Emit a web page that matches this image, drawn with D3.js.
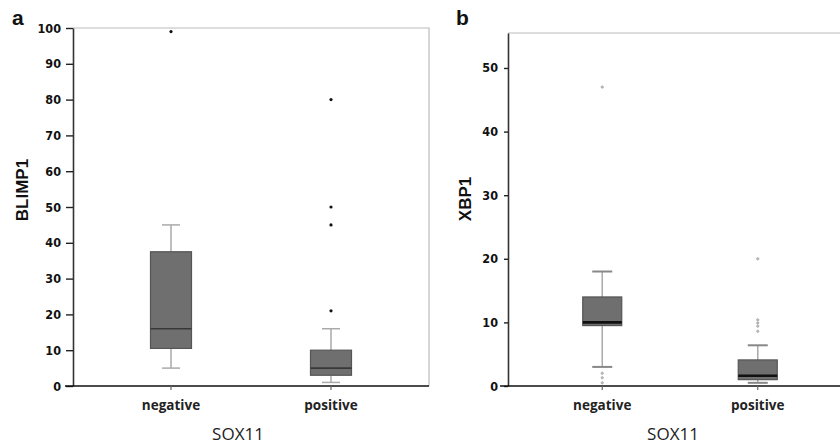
<!DOCTYPE html>
<html>
<head>
    <title>BLIMP1 / XBP1 by SOX11</title>
    <script src="https://d3js.org/d3.v7.min.js"></script>
    <style>
        body { margin: 0; background: white; }
        svg { display: block; background: white; }
        .tick-label { font-family: 'Liberation Sans Narrow', 'DejaVu Sans Condensed', Arial, sans-serif; font-weight: bold; font-size: 12.5px; fill: #111; }
        .cat-label { font-family: 'Open Sans', 'Noto Sans', sans-serif; font-weight: bold; font-size: 13.5px; fill: #222; }
        .x-title { font-family: 'Open Sans', 'Noto Sans', sans-serif; font-size: 17px; fill: #222; }
        .y-title { font-family: 'Liberation Sans', Arial, sans-serif; font-weight: bold; font-size: 17px; fill: #111; }
        .panel-letter { font-family: 'Liberation Sans', Arial, sans-serif; font-weight: bold; font-size: 21px; fill: #111; }
    </style>
</head>
<body>
    <svg width="840" height="445"></svg>
    <script>
        const categories = ["negative", "positive"];

        // [low whisker, Q1, median, Q3, high whisker]
        const blimpBoxes = [[5, 10.5, 16, 37.5, 45], [1, 3, 5, 10, 16]];
        const blimpOutliers = [[99], [80, 50, 45, 21]];
        const blimpTicks = [0, 10, 20, 30, 40, 50, 60, 70, 80, 90, 100];

        const xbpBoxes = [[3, 9.5, 10, 14, 18], [0.5, 1, 1.6, 4.1, 6.4]];
        const xbpOutliers = [[47, 2.0, 1.3, 0.5], [20, 10.4, 9.9, 9.4, 8.6]];
        const xbpTicks = [0, 10, 20, 30, 40, 50];

        const svg = d3.select("svg");

        function drawPanel(opt) {
            const g = svg.append("g");
            const x = d3.scalePoint().domain(categories).range([opt.left, opt.right]).padding(opt.pad);
            const y = d3.scaleLinear().domain([0, opt.max]).range([opt.bottom, opt.top]);

            // frame (light gray top/right)
            g.append("path")
                .attr("d", `M${opt.left},${opt.top}H${opt.right}V${opt.bottom}`)
                .attr("fill", "none")
                .attr("stroke", "#bbb")
                .attr("stroke-width", 1.2);

            // y axis
            const yAxis = g.append("g")
                .attr("transform", `translate(${opt.left},0)`)
                .call(d3.axisLeft(y).tickValues(opt.ticks).tickSize(opt.tickLen).tickPadding(opt.tickPad).tickSizeOuter(0));
            yAxis.select(".domain").attr("stroke", "#333").attr("stroke-width", 1.6);
            yAxis.selectAll(".tick line").attr("stroke", "#222").attr("stroke-width", 1.4);
            yAxis.selectAll(".tick text").attr("class", "tick-label").attr("font-family", null).attr("font-size", null);

            // x axis line
            g.append("line")
                .attr("x1", opt.left - 8).attr("x2", opt.right)
                .attr("y1", opt.bottom).attr("y2", opt.bottom)
                .attr("stroke", "#111").attr("stroke-width", 1.6);

            // category ticks below axis
            g.selectAll(".ctick").data(categories).enter().append("line")
                .attr("x1", d => x(d)).attr("x2", d => x(d))
                .attr("y1", opt.bottom).attr("y2", opt.bottom + 4)
                .attr("stroke", "#666").attr("stroke-width", 1.2);

            g.selectAll(".cat-label").data(categories).enter().append("text")
                .attr("class", "cat-label")
                .attr("x", d => x(d)).attr("y", 410)
                .attr("text-anchor", "middle")
                .text(d => d);

            const bw = opt.boxWidth;
            opt.boxes.forEach((b, i) => {
                const cx = x(categories[i]);
                const [lo, q1, med, q3, hi] = b;
                // whiskers
                g.append("line").attr("x1", cx).attr("x2", cx).attr("y1", y(q3)).attr("y2", y(hi))
                    .attr("stroke", "#aaa").attr("stroke-width", 1.5);
                g.append("line").attr("x1", cx).attr("x2", cx).attr("y1", y(q1)).attr("y2", y(lo))
                    .attr("stroke", "#aaa").attr("stroke-width", 1.5);
                [lo, hi].forEach(v => {
                    g.append("line").attr("x1", cx - opt.capWidth / 2).attr("x2", cx + opt.capWidth / 2)
                        .attr("y1", y(v)).attr("y2", y(v))
                        .attr("stroke", opt.capColor).attr("stroke-width", opt.capStroke);
                });
                // box
                g.append("rect")
                    .attr("x", cx - bw / 2).attr("width", bw)
                    .attr("y", y(q3)).attr("height", y(q1) - y(q3))
                    .attr("fill", "#6f6f6f").attr("stroke", "#555").attr("stroke-width", 1.2);
                g.append("line").attr("x1", cx - bw / 2).attr("x2", cx + bw / 2)
                    .attr("y1", y(med)).attr("y2", y(med))
                    .attr("stroke", opt.medColor).attr("stroke-width", opt.medStroke);
                // outliers
                opt.outliers[i].forEach(v => {
                    g.append("circle").attr("cx", cx).attr("cy", y(v)).attr("r", opt.outR)
                        .attr("fill", opt.outFill).attr("stroke", opt.outStroke).attr("stroke-width", 0.8);
                });
            });

            // titles
            g.append("text").attr("class", "y-title")
                .attr("transform", `translate(${opt.yTitleX},${opt.yTitleY}) rotate(-90)`)
                .attr("text-anchor", "middle")
                .text(opt.yTitle);
            g.append("text").attr("class", "x-title")
                .attr("x", opt.xTitleX).attr("y", 440)
                .attr("text-anchor", "middle")
                .text("SOX11");
            g.append("text").attr("class", "panel-letter")
                .attr("x", opt.letterX).attr("y", 25)
                .text(opt.letter);
        }

        drawPanel({
            left: 73, right: 429, top: 28, bottom: 386, pad: 0.6125, max: 100,
            ticks: blimpTicks, tickLen: 7, tickPad: 5,
            boxes: blimpBoxes, outliers: blimpOutliers, boxWidth: 41,
            capWidth: 18, capColor: "#aaa", capStroke: 1.5,
            medColor: "#383838", medStroke: 1.6,
            outR: 1.6, outFill: "#111", outStroke: "none",
            yTitle: "BLIMP1", yTitleX: 28, yTitleY: 190,
            xTitleX: 238, letter: "a", letterX: 12
        });

        drawPanel({
            left: 508, right: 852, top: 33, bottom: 386, pad: 0.606, max: 55.5,
            ticks: xbpTicks, tickLen: 4, tickPad: 6,
            boxes: xbpBoxes, outliers: xbpOutliers, boxWidth: 39,
            capWidth: 20, capColor: "#888", capStroke: 2,
            medColor: "#111", medStroke: 2.6,
            outR: 1.1, outFill: "#ccc", outStroke: "#999",
            yTitle: "XBP1", yTitleX: 471, yTitleY: 199,
            xTitleX: 673, letter: "b", letterX: 456
        });
    </script>
</body>
</html>
